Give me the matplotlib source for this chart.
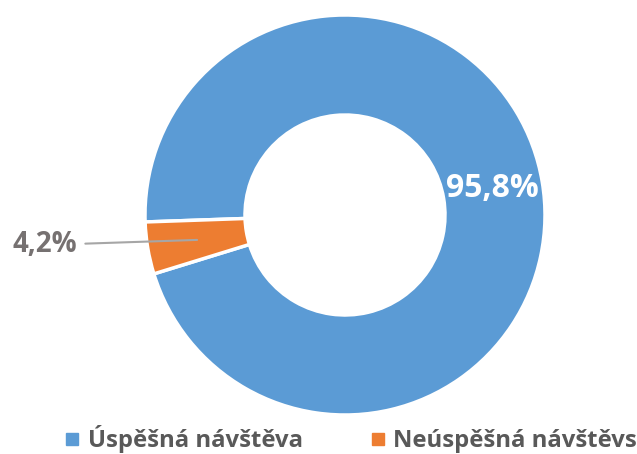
import numpy as np
import matplotlib
matplotlib.use('Agg')
from matplotlib import pyplot as plt
from matplotlib.lines import Line2D

plt.rcParams['font.family'] = ['Open Sans', 'DejaVu Sans']

labels = ['Úspěšná návštěva', 'Neúspěšná návštěvs']
values = [95.8, 4.2]
pct_text = ['95,8%', '4,2%']
colors = ['#5B9BD5', '#ED7D31']

fig = plt.figure(figsize=(6.37, 4.54), dpi=100)
ax = fig.add_axes([145 / 637, 39 / 454, 400 / 637, 400 / 454])

wedges, _ = ax.pie(values, colors=colors, startangle=182, counterclock=False,
                   radius=1.0, wedgeprops=dict(width=0.5, edgecolor='white', linewidth=2.5))
ax.set_xlim(-1, 1)
ax.set_ylim(-1, 1)
ax.set_aspect('equal')
ax.axis('off')

# label for big slice, inside ring
w = wedges[0]
a = np.deg2rad((w.theta1 + w.theta2) / 2)
ax.text(0.75 * np.cos(a) - 0.005, 0.75 * np.sin(a) + 0.01, pct_text[0], color='white',
        fontsize=23, fontweight='bold', ha='center', va='center')

# small slice with leader line
w = wedges[1]
a = np.deg2rad((w.theta1 + w.theta2) / 2)
ax.annotate(pct_text[1], xy=(0.75 * np.cos(a), 0.75 * np.sin(a)), xytext=(-1.34, -0.15),
            color='#767171', fontsize=20, fontweight='bold', ha='right', va='center',
            annotation_clip=False,
            arrowprops=dict(arrowstyle='-', color='#A6A6A6', lw=1.5, shrinkA=4, shrinkB=0))

handles = [Line2D([], [], marker='s', linestyle='none', markersize=8.6,
                  markerfacecolor=c, markeredgecolor=c) for c in colors]
fig.legend(handles, labels, loc='lower left', bbox_to_anchor=(66 / 637, 0.002), ncol=2,
           frameon=False, borderpad=0, borderaxespad=0, handletextpad=0.4,
           columnspacing=2.9, handlelength=0.5, labelcolor='#595959',
           prop=dict(weight='bold', size=17.2))

fig.savefig('out.png', dpi=100)
